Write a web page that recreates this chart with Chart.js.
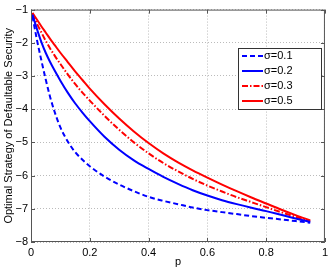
<!DOCTYPE html>
<html>
<head>
<meta charset="utf-8">
<script src="https://cdn.jsdelivr.net/npm/chart.js"></script>
<style>
  html, body { margin: 0; padding: 0; background: #fff; }
  #wrap { width: 332px; height: 269px; }
</style>
</head>
<body>
<div id="wrap"><canvas id="graph" width="332" height="269"></canvas></div>
<script>
const p = [0.005, 0.02, 0.035, 0.05, 0.065, 0.08, 0.1, 0.125, 0.15, 0.175, 0.2, 0.25, 0.3, 0.35, 0.4, 0.45, 0.5, 0.55, 0.6, 0.65, 0.7, 0.75, 0.8, 0.85, 0.9, 0.95];
const sigma01 = [-1.2, -1.9, -2.52, -3.1, -3.63, -4.07, -4.55, -4.97, -5.29, -5.52, -5.72, -6.03, -6.27, -6.47, -6.64, -6.76, -6.86, -6.96, -7.04, -7.1, -7.16, -7.22, -7.27, -7.32, -7.37, -7.42];
const sigma02 = [-1.15, -1.58, -1.97, -2.3, -2.58, -2.83, -3.14, -3.5, -3.82, -4.1, -4.36, -4.83, -5.22, -5.54, -5.8, -6.04, -6.25, -6.44, -6.6, -6.74, -6.86, -6.97, -7.07, -7.18, -7.29, -7.39];
const sigma03 = [-1.12, -1.42, -1.68, -1.94, -2.17, -2.38, -2.64, -2.95, -3.24, -3.5, -3.74, -4.2, -4.62, -5.0, -5.33, -5.62, -5.87, -6.1, -6.3, -6.48, -6.65, -6.8, -6.95, -7.1, -7.24, -7.38];
const sigma05 = [-1.1, -1.3, -1.5, -1.69, -1.88, -2.06, -2.3, -2.58, -2.86, -3.12, -3.38, -3.85, -4.28, -4.67, -5.02, -5.33, -5.6, -5.84, -6.06, -6.27, -6.47, -6.66, -6.84, -7.02, -7.19, -7.35];
const labels = ['σ=0.1', 'σ=0.2', 'σ=0.3', 'σ=0.5'];

const FONT = "'Liberation Sans', Arial, Helvetica, sans-serif";

function pts(ys) {
    return p.map((x, i) => ({ x: x, y: ys[i] }));
}

function line(label, ys, color, dash) {
    return {
        label: label,
        data: pts(ys),
        borderColor: color,
        backgroundColor: color,
        borderWidth: 2,
        borderDash: dash,
        pointRadius: 0,
        fill: false,
        cubicInterpolationMode: 'monotone'
    };
}

// frame, inward ticks and the boxed legend, matlab style
const matlabBits = {
    id: 'matlabBits',
    afterDraw(chart) {
        const ctx = chart.ctx;
        const a = chart.chartArea;
        const xs = chart.scales.x, ys = chart.scales.y;
        ctx.save();
        ctx.strokeStyle = '#555';
        ctx.lineWidth = 1;
        ctx.setLineDash([]);
        ctx.strokeRect(a.left + 0.5, a.top + 0.5, a.right - a.left - 1, a.bottom - a.top - 1);
        ctx.beginPath();
        xs.ticks.forEach(t => {
            const px = Math.round(xs.getPixelForValue(t.value)) + 0.5;
            ctx.moveTo(px, a.bottom); ctx.lineTo(px, a.bottom - 4);
            ctx.moveTo(px, a.top); ctx.lineTo(px, a.top + 4);
        });
        ys.ticks.forEach(t => {
            const py = Math.round(ys.getPixelForValue(t.value)) + 0.5;
            ctx.moveTo(a.left, py); ctx.lineTo(a.left + 4, py);
            ctx.moveTo(a.right, py); ctx.lineTo(a.right - 4, py);
        });
        ctx.stroke();

        // legend
        const bx = 238.5, by = 48.5, bw = 83, bh = 61;
        ctx.fillStyle = '#fff';
        ctx.fillRect(bx, by, bw, bh);
        ctx.strokeStyle = '#333';
        ctx.strokeRect(bx, by, bw, bh);
        ctx.font = '11px ' + FONT;
        ctx.textBaseline = 'middle';
        chart.data.datasets.forEach((ds, i) => {
            const y = 56 + i * 15;
            ctx.strokeStyle = ds.borderColor;
            ctx.lineWidth = 2;
            ctx.setLineDash(ds.borderDash || []);
            ctx.beginPath();
            ctx.moveTo(242, y); ctx.lineTo(263, y);
            ctx.stroke();
            ctx.setLineDash([]);
            ctx.fillStyle = '#000';
            ctx.fillText(ds.label, 264, y);
        });
        ctx.restore();
    }
};

const graph = document.getElementById('graph').getContext('2d');

let myChart = new Chart(graph, {
    type: 'line',
    data: {
        datasets: [
            line(labels[0], sigma01, '#0000ff', [5, 3]),
            line(labels[1], sigma02, '#0000ff', []),
            line(labels[2], sigma03, '#ff0000', [6, 2, 1.5, 2]),
            line(labels[3], sigma05, '#ff0000', [])
        ]
    },
    options: {
        responsive: false,
        animation: false,
        layout: { padding: { top: 8, right: 5, left: 0, bottom: 0 } },
        plugins: {
            legend: { display: false },
            tooltip: { enabled: false }
        },
        scales: {
            x: {
                type: 'linear',
                min: 0,
                max: 1,
                ticks: {
                    stepSize: 0.2,
                    color: '#000',
                    padding: 4,
                    maxRotation: 0,
                    font: { family: FONT, size: 11 },
                    callback: v => String(Math.round(v * 10) / 10)
                },
                grid: { color: '#bbb', drawTicks: false },
                border: { display: false, dash: [1, 2] },
                title: {
                    display: true,
                    text: 'p',
                    color: '#000',
                    font: { family: FONT, size: 11 },
                    padding: { top: 0, bottom: 0 }
                },
                afterFit: s => { s.height = 27; }
            },
            y: {
                type: 'linear',
                min: -8,
                max: -1,
                ticks: {
                    stepSize: 1,
                    color: '#000',
                    padding: 3,
                    font: { family: FONT, size: 11 },
                    callback: v => (v < 0 ? '\u2212' + Math.abs(v) : String(v))
                },
                grid: { color: '#bbb', drawTicks: false },
                border: { display: false, dash: [1, 2] },
                title: {
                    display: true,
                    text: 'Optimal Strategy of Defaultable Security',
                    color: '#000',
                    font: { family: FONT, size: 11 },
                    padding: { top: 2, bottom: 0 }
                },
                afterFit: s => { s.width = 31; }
            }
        }
    },
    plugins: [matlabBits]
});
</script>
</body>
</html>
